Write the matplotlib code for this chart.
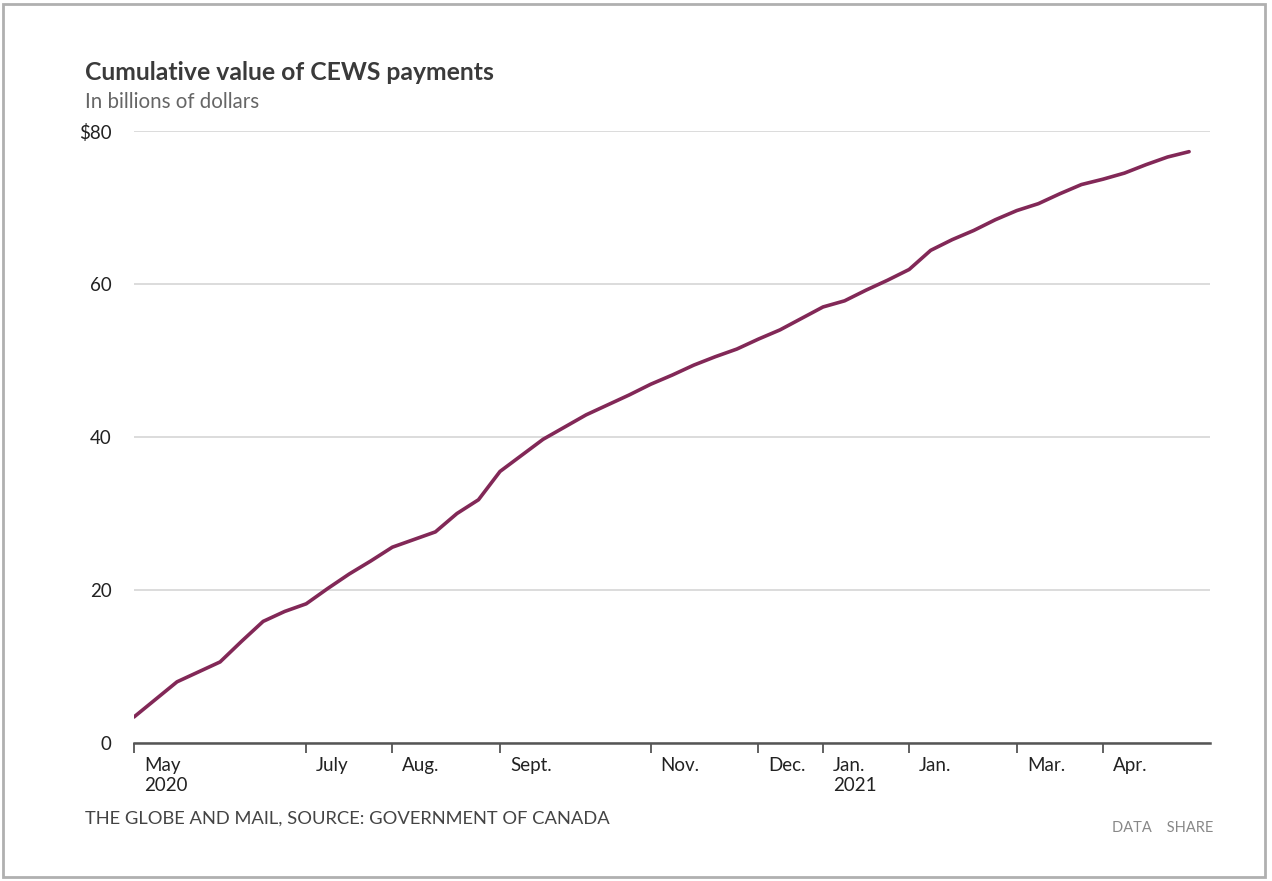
import matplotlib
matplotlib.use("Agg")
import matplotlib.pyplot as plt
import matplotlib.transforms as mtransforms
from matplotlib.patches import Rectangle

plt.rcParams['font.family'] = ['Lato', 'DejaVu Sans']

# weekly cumulative CEWS payments, billions of dollars
values = [3.4, 5.7, 8.0, 9.3, 10.6, 13.3, 15.9, 17.2, 18.2, 20.2,
          22.1, 23.8, 25.6, 26.6, 27.6, 30.0, 31.8, 35.5, 37.6, 39.7,
          41.3, 42.9, 44.2, 45.5, 46.9, 48.1, 49.4, 50.5, 51.5, 52.8,
          54.0, 55.5, 57.0, 57.8, 59.2, 60.5, 61.9, 64.4, 65.8, 67.0,
          68.4, 69.6, 70.5, 71.8, 73.0, 73.7, 74.5, 75.6, 76.6, 77.3]
weeks = list(range(len(values)))

tick_weeks = [0, 8, 12, 17, 24, 29, 32, 36, 41, 45]
tick_labels = ['May\n2020', 'July', 'Aug.', 'Sept.', 'Nov.', 'Dec.',
               'Jan.\n2021', 'Jan.', 'Mar.', 'Apr.']

y_ticks = [0, 20, 40, 60, 80]
y_labels = ['0', '20', '40', '60', '$80']

line_color = '#822857'

fig = plt.figure(figsize=(12.72, 8.81), dpi=100)
ax = fig.add_axes([0.1053, 0.1566, 0.8456, 0.6947])

ax.plot(weeks, values, color=line_color, linewidth=2.6,
        solid_joinstyle='round', solid_capstyle='round', zorder=3)

ax.set_xlim(0, 49.95)
ax.set_ylim(0, 80)

ax.set_yticks(y_ticks)
ax.set_yticklabels(y_labels)
ax.yaxis.grid(True, color='#dcdcdc', linewidth=1.4)
ax.set_axisbelow(True)
ax.tick_params(axis='y', length=0, pad=16, labelsize=13.5, labelcolor='#222222')

ax.set_xticks(tick_weeks)
ax.set_xticklabels(tick_labels, ha='left', va='top', linespacing=1.2)
ax.tick_params(axis='x', length=7, width=1.3, color='#555555', pad=3,
               labelsize=13.5, labelcolor='#222222')
offset = mtransforms.ScaledTranslation(10 / 100, 0, fig.dpi_scale_trans)
for lab in ax.get_xticklabels():
    lab.set_transform(lab.get_transform() + offset)

for side in ['top', 'right', 'left']:
    ax.spines[side].set_visible(False)
ax.spines['bottom'].set_color('#555555')
ax.spines['bottom'].set_linewidth(1.8)

fig.text(85 / 1272, 1 - 72 / 881, 'Cumulative value of CEWS payments',
         fontsize=17.8, fontweight='bold', color='#3a3a3a', va='center')
fig.text(85 / 1272, 1 - 102 / 881, 'In billions of dollars',
         fontsize=14.8, color='#666666', va='center')
fig.text(85 / 1272, 1 - 819 / 881,
         'THE GLOBE AND MAIL, SOURCE: GOVERNMENT OF CANADA',
         fontsize=13.2, color='#444444', va='center')
fig.text(1213 / 1272, 1 - 828 / 881, 'DATA    SHARE',
         fontsize=10.5, color='#888888', va='center', ha='right')

# frame around the graphic
fig.patches.append(Rectangle((3 / 1272, 4 / 881), 1262 / 1272, 873 / 881,
                             transform=fig.transFigure, fill=False,
                             edgecolor='#b0b0b0', linewidth=2))

fig.savefig('out.png', dpi=100)
